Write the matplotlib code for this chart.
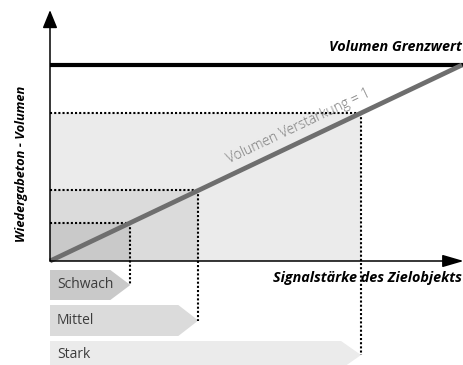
import numpy as np
import matplotlib.pyplot as plt
from matplotlib.patches import Rectangle, Polygon

# Daten (Signalstärke / Volumen, Einheiten: Prozent des Grenzwerts)
stufen = ["Schwach", "Mittel", "Stark"]
signal_stufe = [19.5, 36.0, 75.5]
verstaerkung = 1.0
volumen_grenzwert = 100.0
x_max = 100.4

# Stil
flaechen_farben = ["#c9c9c9", "#dbdbdb", "#ebebeb"]
text_farbe = "#3c3c3c"
FONT = ["Open Sans", "DejaVu Sans"]

fig = plt.figure(figsize=(4.64, 3.65), dpi=100)
ax = fig.add_axes([0, 0, 1, 1])
ax.axis("off")
# Pixelraster: Ursprung bei (50, 261), 4.12 px / Einheit in x, 1.96 px / Einheit in y
ax.set_xlim(-50 / 4.12, 414 / 4.12)
ax.set_ylim(-(365 - 261) / 1.96, 261 / 1.96)

volumen_stufe = [verstaerkung * s for s in signal_stufe]

# Flächen (größte zuerst)
for s, v, c in sorted(zip(signal_stufe, volumen_stufe, flaechen_farben), reverse=True):
    ax.add_patch(Rectangle((0, 0), s, v, facecolor=c, edgecolor="none", zorder=1))

# gepunktete Hilfslinien
zeilen_mitte = [-(285 - 261) / 1.96, -(320.5 - 261) / 1.96, -(355 - 261) / 1.96]
for s, v, ym in zip(signal_stufe, volumen_stufe, zeilen_mitte):
    ax.plot([0, s], [v, v], color="black", lw=1.5, ls=(0, (1, 1)), zorder=3)
    ax.plot([s, s], [v, ym], color="black", lw=1.5, ls=(0, (1, 1)), zorder=3)

# Grenzwert und Verstärkungslinie
ax.plot([0, x_max], [volumen_grenzwert, volumen_grenzwert], color="black", lw=3, zorder=4,
        solid_capstyle="butt")
xs = np.array([0, volumen_grenzwert / verstaerkung])
ax.plot(xs, verstaerkung * xs, color="#6e6e6e", lw=3.4, zorder=4, solid_capstyle="butt")

# Achsen mit Pfeilen
ax.annotate("", xy=(0, 128), xytext=(0, 0),
            arrowprops=dict(arrowstyle="-|>,head_length=1.1,head_width=0.45",
                            color="black", lw=1.1, shrinkA=0, shrinkB=0), zorder=5)
ax.annotate("", xy=(x_max, 0), xytext=(0, 0),
            arrowprops=dict(arrowstyle="-|>,head_length=1.3,head_width=0.38",
                            color="black", lw=1.1, shrinkA=0, shrinkB=0), zorder=5)

# Stufen-Pfeile unten
halbe_hoehe = [15 / 1.96, 15.5 / 1.96, 14 / 1.96]
spitze = 20 / 4.12
for name, s, ym, h, c in zip(stufen, signal_stufe, zeilen_mitte, halbe_hoehe, flaechen_farben):
    pts = [(0, ym + h), (s - spitze, ym + h), (s, ym), (s - spitze, ym - h), (0, ym - h)]
    ax.add_patch(Polygon(pts, closed=True, facecolor=c, edgecolor="none", zorder=2))
    ax.text(1.7, ym, name, ha="left", va="center", fontsize=10, color=text_farbe,
            family=FONT, zorder=6)

# Beschriftungen
ax.text(100, 109, "Volumen Grenzwert", ha="right", va="center", fontsize=10.4,
        fontweight="bold", style="italic", family=FONT, color="black")
ax.text(100, -8.8, "Signalstärke des Zielobjekts", ha="right", va="center", fontsize=10.4,
        fontweight="bold", style="italic", family=FONT, color="black")
ax.text(-7.0, 49.5, "Wiedergabeton - Volumen", ha="center", va="center", rotation=90,
        fontsize=9.3, fontweight="bold", style="italic", family=FONT, color="black")
ax.text(60.5, 68.5, "Volumen Verstärkung = 1", ha="center", va="center", rotation=45,
        transform_rotates_text=True, rotation_mode="anchor", fontsize=10,
        fontweight="light", family=FONT, color="#7a7a7a", zorder=6)

plt.savefig("out.png", dpi=100)
